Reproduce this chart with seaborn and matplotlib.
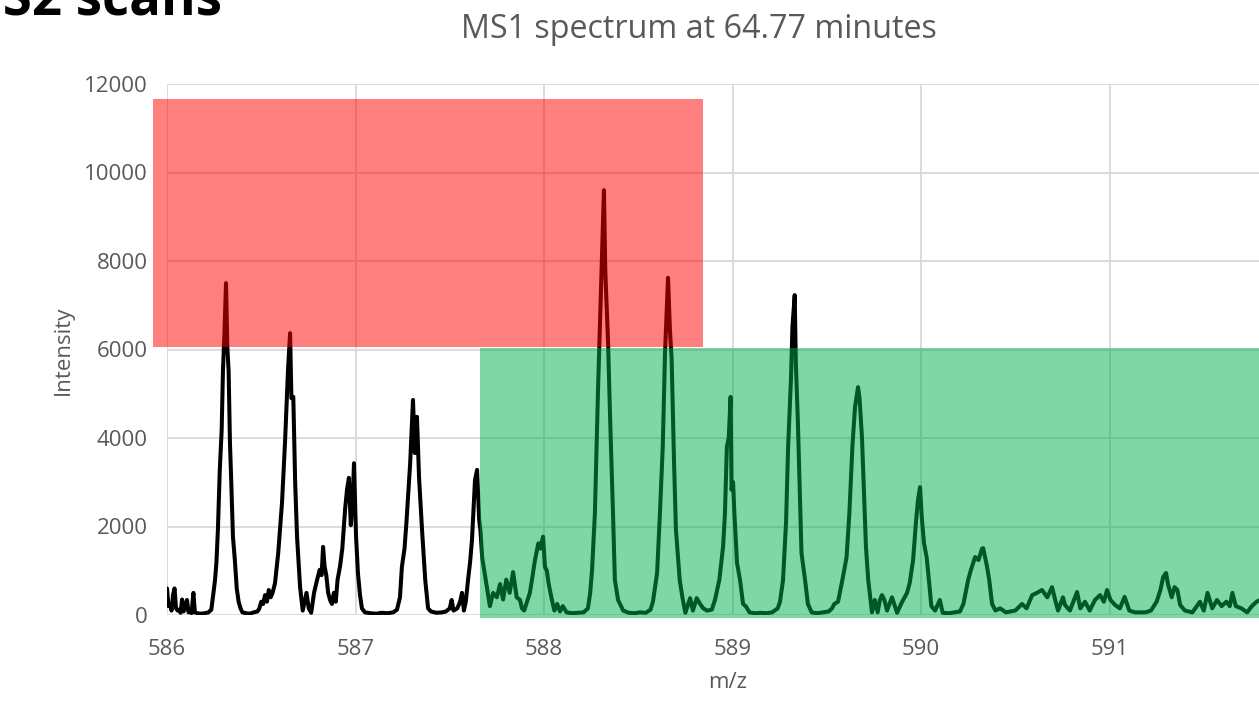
import matplotlib
matplotlib.use("Agg")
import matplotlib.pyplot as plt
import numpy as np
import pandas as pd
import seaborn as sns
from matplotlib.patches import Rectangle

# ---- data ----
mz = [
    586.000, 586.008, 586.016, 586.024, 586.032, 586.040, 586.048, 586.056, 586.064, 586.072,
    586.080, 586.088, 586.096, 586.106, 586.114, 586.122, 586.130, 586.140, 586.148, 586.160,
    586.180, 586.200, 586.220, 586.235, 586.245, 586.255, 586.262, 586.270, 586.280, 586.290,
    586.297, 586.305, 586.313, 586.320, 586.327, 586.334, 586.340, 586.350, 586.360, 586.370,
    586.380, 586.390, 586.400, 586.420, 586.440, 586.460, 586.480, 586.490, 586.500, 586.510,
    586.520, 586.530, 586.540, 586.550, 586.560, 586.573, 586.590, 586.610, 586.626, 586.642,
    586.653, 586.660, 586.670, 586.680, 586.690, 586.706, 586.720, 586.730, 586.740, 586.752,
    586.765, 586.780, 586.796, 586.810, 586.820, 586.828, 586.836, 586.845, 586.855, 586.865,
    586.875, 586.885, 586.895, 586.905, 586.918, 586.930, 586.945, 586.955, 586.965, 586.975,
    586.985, 586.992, 587.003, 587.013, 587.024, 587.034, 587.050, 587.080, 587.110, 587.140,
    587.170, 587.200, 587.220, 587.236, 587.246, 587.260, 587.270, 587.290, 587.305, 587.315,
    587.326, 587.337, 587.353, 587.370, 587.385, 587.400, 587.430, 587.460, 587.480, 587.500,
    587.510, 587.520, 587.540, 587.555, 587.565, 587.575, 587.585, 587.597, 587.608, 587.618,
    587.634, 587.645, 587.656, 587.663, 587.672, 587.680, 587.697, 587.713, 587.730, 587.750,
    587.767, 587.783, 587.800, 587.818, 587.836, 587.855, 587.873, 587.883, 587.895, 587.910,
    587.925, 587.936, 587.952, 587.970, 587.980, 587.995, 588.005, 588.015, 588.025, 588.040,
    588.055, 588.070, 588.085, 588.100, 588.120, 588.150, 588.180, 588.210, 588.233, 588.245,
    588.255, 588.270, 588.287, 588.307, 588.318, 588.325, 588.340, 588.350, 588.366, 588.376,
    588.393, 588.420, 588.450, 588.480, 588.510, 588.540, 588.565, 588.578, 588.600, 588.615,
    588.630, 588.642, 588.658, 588.668, 588.677, 588.690, 588.700, 588.720, 588.735, 588.750,
    588.775, 588.790, 588.810, 588.828, 588.845, 588.865, 588.890, 588.907, 588.930, 588.950,
    588.960, 588.970, 588.980, 588.990, 588.995, 589.003, 589.010, 589.024, 589.040, 589.056,
    589.070, 589.090, 589.120, 589.150, 589.180, 589.210, 589.240, 589.252, 589.268, 589.284,
    589.295, 589.310, 589.318, 589.330, 589.336, 589.347, 589.358, 589.366, 589.385, 589.400,
    589.420, 589.450, 589.480, 589.510, 589.528, 589.540, 589.560, 589.586, 589.605, 589.620,
    589.636, 589.650, 589.666, 589.674, 589.687, 589.695, 589.708, 589.720, 589.740, 589.755,
    589.770, 589.782, 589.793, 589.805, 589.820, 589.846, 589.873, 589.900, 589.926, 589.940,
    589.958, 589.973, 589.984, 589.995, 590.004, 590.016, 590.030, 590.042, 590.055, 590.075,
    590.100, 590.115, 590.150, 590.180, 590.207, 590.225, 590.250, 590.265, 590.287, 590.305,
    590.324, 590.330, 590.350, 590.362, 590.377, 590.395, 590.420, 590.450, 590.500, 590.536,
    590.560, 590.590, 590.615, 590.642, 590.670, 590.695, 590.712, 590.727, 590.753, 590.764,
    590.790, 590.828, 590.845, 590.870, 590.895, 590.923, 590.950, 590.970, 590.987, 591.005,
    591.030, 591.055, 591.080, 591.105, 591.135, 591.190, 591.220, 591.250, 591.270, 591.285,
    591.300, 591.310, 591.330, 591.345, 591.360, 591.375, 591.400, 591.440, 591.480, 591.500,
    591.520, 591.545, 591.570, 591.595, 591.620, 591.638, 591.652, 591.670, 591.700, 591.730,
    591.755, 591.780, 591.800,
]
intensity = [
    600, 200, 250, 100, 450, 600, 150, 100, 120, 50,
    350, 80, 200, 340, 60, 80, 40, 500, 60, 40,
    30, 40, 60, 120, 450, 800, 1175, 1920, 3280, 4180,
    5540, 6400, 7500, 6060, 5500, 3890, 3120, 1760, 1240, 600,
    300, 150, 60, 40, 30, 60, 80, 150, 300, 250,
    450, 300, 565, 400, 500, 720, 1400, 2530, 3890, 5540,
    6370, 4900, 4930, 2980, 1760, 630, 100, 300, 500, 150,
    50, 500, 790, 1020, 900, 1540, 1100, 900, 500, 340,
    250, 500, 300, 800, 1100, 1500, 2400, 2830, 3100, 2030,
    2600, 3430, 1770, 940, 450, 150, 60, 40, 30, 50,
    40, 60, 120, 400, 1085, 1500, 2080, 3430, 4860, 3660,
    4480, 3120, 1920, 790, 150, 80, 50, 60, 80, 150,
    340, 100, 150, 300, 500, 100, 300, 790, 1200, 1700,
    3050, 3280, 2150, 1900, 1300, 1085, 630, 200, 500, 400,
    700, 350, 800, 500, 970, 400, 340, 150, 100, 300,
    500, 790, 1240, 1620, 1500, 1770, 1085, 1000, 700, 380,
    100, 250, 80, 200, 60, 40, 50, 60, 150, 500,
    1020, 2300, 5150, 8020, 9600, 7800, 6150, 4560, 2300, 790,
    340, 100, 50, 40, 60, 50, 120, 300, 950, 2300,
    3800, 5920, 7620, 6440, 5800, 3430, 1920, 790, 380, 50,
    380, 100, 380, 250, 150, 100, 120, 340, 790, 1540,
    2300, 3800, 4000, 4930, 2830, 3000, 2300, 1175, 790, 250,
    200, 60, 40, 50, 40, 60, 150, 300, 790, 2080,
    3800, 5310, 6510, 7230, 5700, 4340, 2670, 1400, 790, 250,
    60, 40, 60, 80, 150, 250, 300, 860, 1300, 2300,
    3800, 4700, 5150, 4900, 4000, 3050, 1540, 790, 60, 340,
    60, 340, 450, 350, 100, 400, 50, 300, 500, 720,
    1240, 2080, 2600, 2890, 2210, 1620, 1300, 790, 200, 100,
    340, 50, 40, 60, 80, 250, 790, 1020, 1310, 1240,
    1500, 1510, 1100, 790, 250, 100, 150, 60, 100, 250,
    150, 450, 500, 565, 400, 630, 340, 100, 400, 225,
    100, 520, 150, 300, 100, 340, 450, 300, 565, 340,
    225, 150, 410, 100, 60, 60, 100, 300, 565, 860,
    950, 700, 400, 630, 565, 225, 100, 60, 300, 100,
    500, 150, 340, 200, 300, 200, 500, 200, 150, 60,
    200, 300, 340,
]
x_ticks = [586, 587, 588, 589, 590, 591]
y_ticks = [0, 2000, 4000, 6000, 8000, 10000, 12000]
chart_title = "MS1 spectrum at 64.77 minutes"
slide_title = "MS2 scans"
x_label = "m/z"
y_label = "Intensity"

W, H = 1259, 707
sns.set_style("whitegrid")
plt.rcParams['font.family'] = ['Open Sans', 'DejaVu Sans']

fig = plt.figure(figsize=(W / 100, H / 100), dpi=100)
# axis: 586 at px 167, 1 unit = 188.5 px; y 0 at px 615, 12000 at px 84
ax_left, ax_bottom, ax_top = 167, 615, 84
ax = fig.add_axes([ax_left / W, 1 - ax_bottom / H, (W - ax_left) / W, (ax_bottom - ax_top) / H])

df = pd.DataFrame({"mz": mz, "intensity": intensity})
sns.lineplot(data=df, x="mz", y="intensity", ax=ax, color="black", linewidth=2.9,
             estimator=None, sort=False, solid_joinstyle="round", zorder=2)

ax.set_xlim(586, 586 + (W - ax_left) / 188.5)
ax.set_ylim(0, 12000)
ax.set_xticks(x_ticks)
ax.set_yticks(y_ticks)
ax.set_xticklabels([str(t) for t in x_ticks])
ax.set_yticklabels([str(t) for t in y_ticks])
ax.grid(True, color="#D9D9D9", linewidth=1.3, zorder=0)
ax.set_axisbelow(True)
for s in ax.spines.values():
    s.set_visible(False)
ax.tick_params(length=0, labelsize=16, labelcolor="#595959")
ax.tick_params(axis="y", pad=14)
ax.tick_params(axis="x", pad=17)
ax.set_xlabel("")
ax.set_ylabel("")

# overlay highlight boxes
ax.add_patch(Rectangle((585.926, 6064), 588.846 - 585.926, 11661 - 6064,
                       facecolor="#FF0000", alpha=0.5, edgecolor="none",
                       zorder=3, clip_on=False))
ax.add_patch(Rectangle((587.66, -75), 592.5 - 587.66, 6027 + 75,
                       facecolor="#00B050", alpha=0.5, edgecolor="none",
                       zorder=3, clip_on=False))

fig.text(699 / W, 1 - 30 / H, chart_title, ha="center", va="center",
         fontsize=23.2, color="#595959")
fig.text(728 / W, 1 - 683 / H, x_label, ha="center", va="center",
         fontsize=16, color="#595959")
fig.text(63 / W, 1 - 350 / H, y_label, ha="center", va="center",
         rotation=90, fontsize=16, color="#595959")
fig.text(222 / W, 1 - 15 / H, slide_title, ha="right", va="baseline",
         fontsize=38, fontweight="bold", color="black")

fig.savefig("out.png", dpi=100)
